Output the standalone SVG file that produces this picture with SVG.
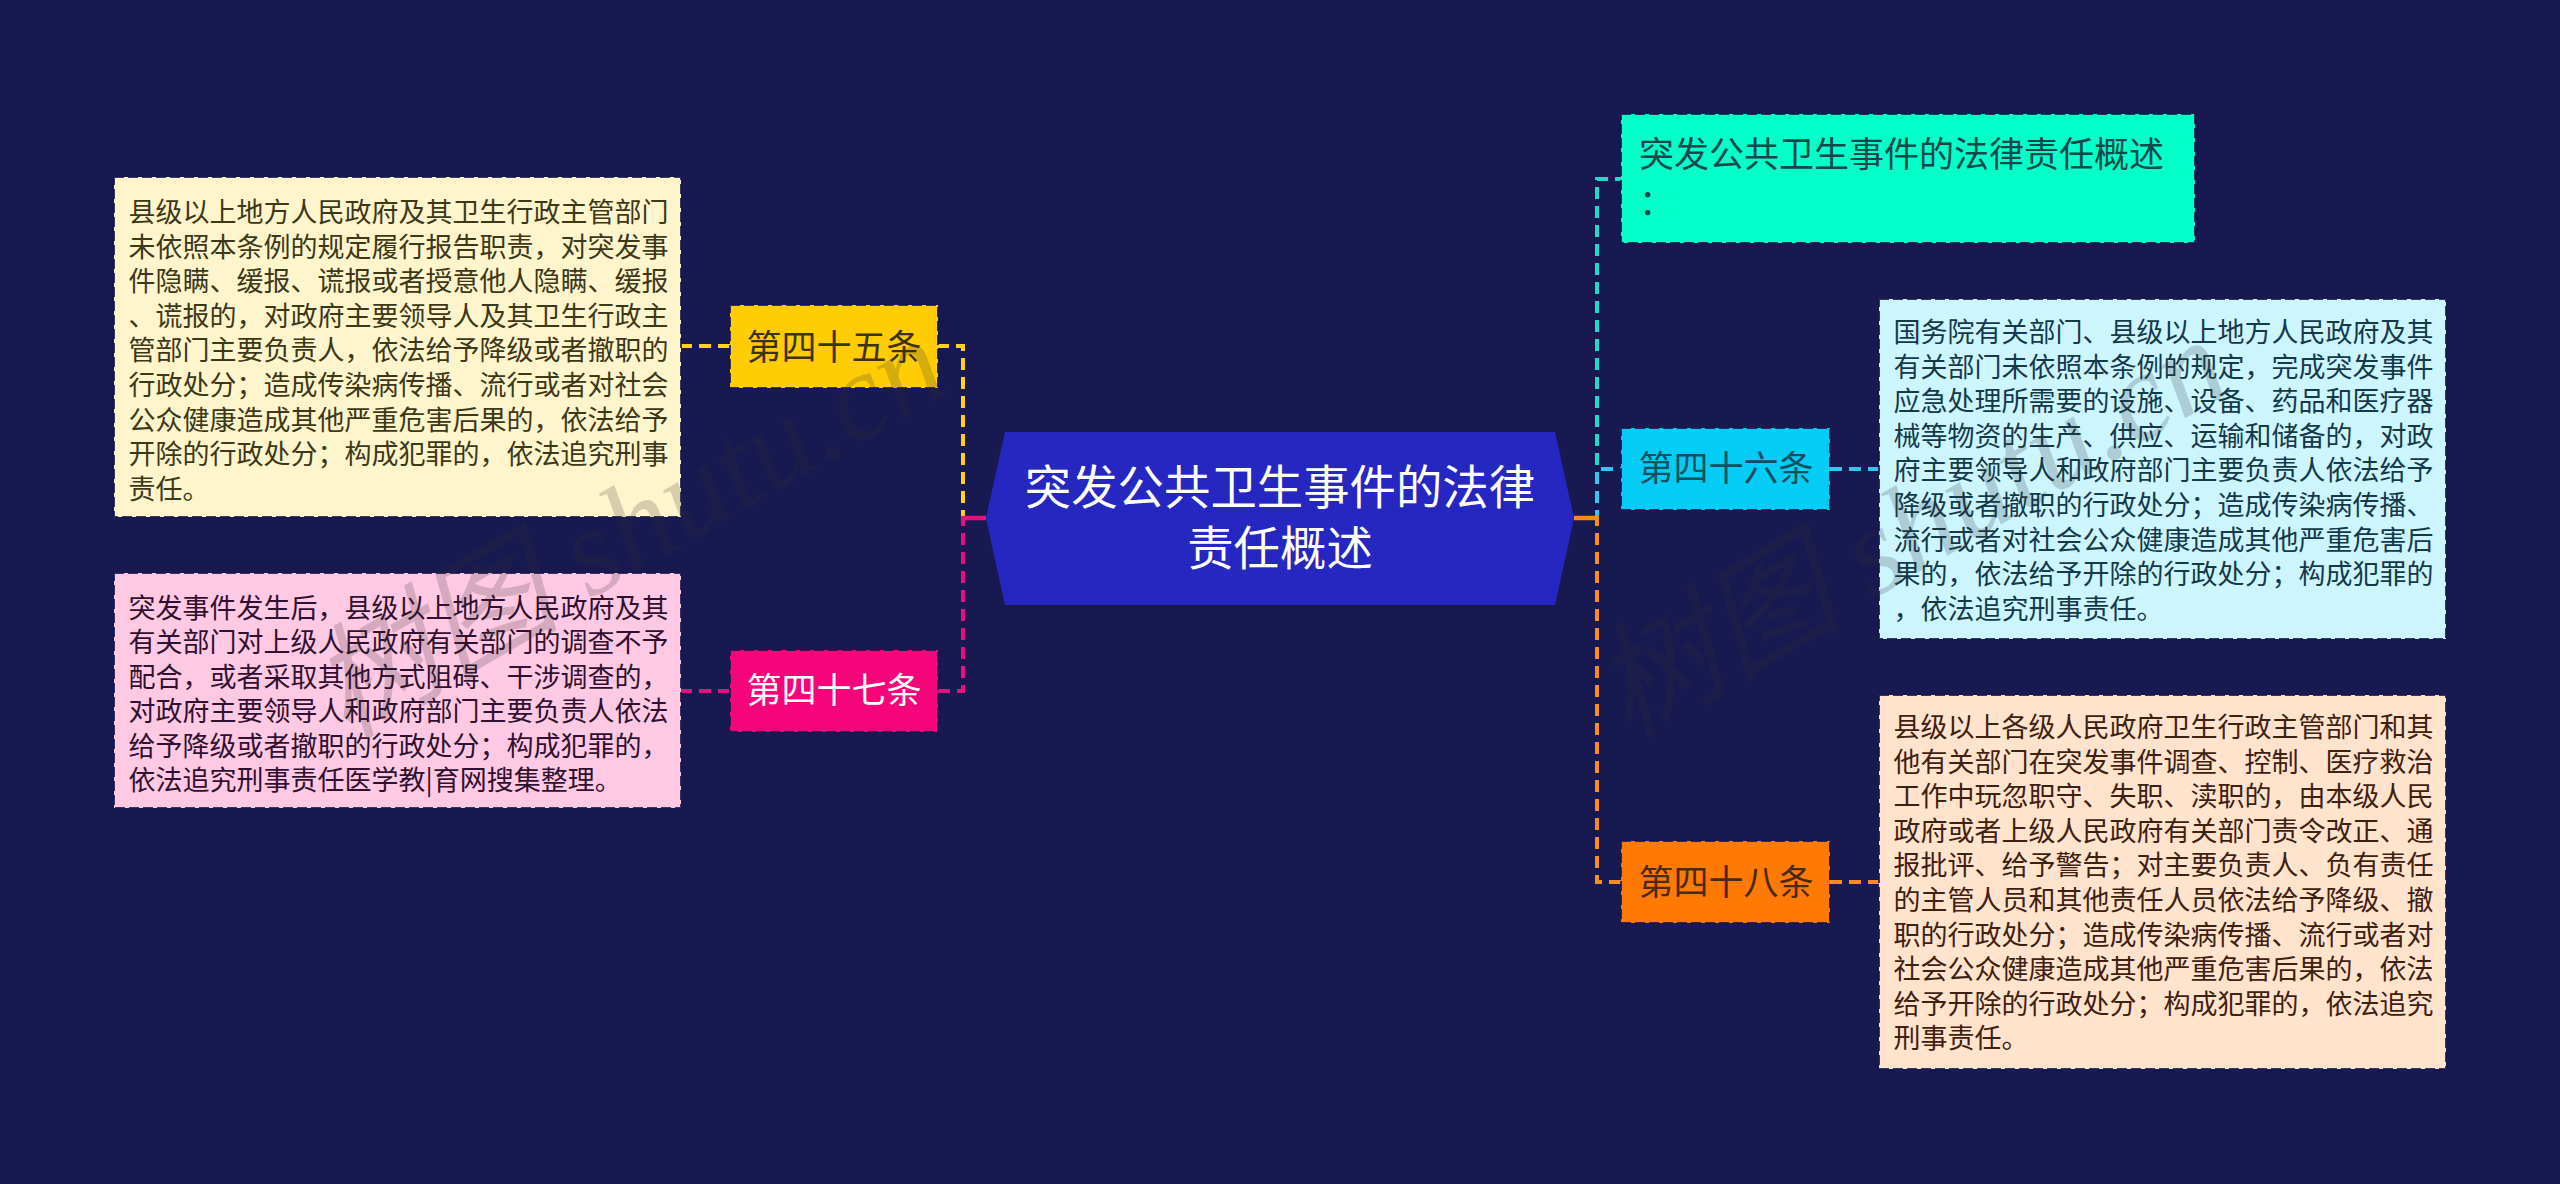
<svg xmlns="http://www.w3.org/2000/svg" width="2560" height="1184" viewBox="0 0 2560 1184">
<style>
text{font-family:"Noto Sans CJK SC","Noto Sans",sans-serif}
.box{stroke:#16174f;stroke-opacity:.85;stroke-width:2;stroke-dasharray:10 4}
.leaf{font-size:27px}
.tag{font-size:35px}
.c{fill:none;stroke-width:4;stroke-dasharray:12 7}
.s{fill:none;stroke-width:4.5}
.wm{font-family:"Liberation Serif","Noto Sans CJK SC",serif;font-style:italic;font-size:125px;fill:#323232;opacity:.2}
.wmz{font-family:"Noto Sans CJK SC","Noto Sans",sans-serif;font-style:italic}
</style>
<rect width="2560" height="1184" fill="#171950"/>
<g id="connectors">
<path class="c" stroke="#1fdcc8" d="M1574 518H1597V179H1621"/>
<path class="c" stroke="#38c4f0" d="M1574 518H1597V469H1621"/>
<path class="c" stroke="#ff8a1e" d="M1574 518H1597V882H1621"/>
<path class="c" stroke="#ffd21e" d="M986 518H963V346H938"/>
<path class="c" stroke="#e8107c" d="M986 518H963V691H938"/>
<path class="s" stroke="#e8107c" d="M986 518H963"/>
<path class="s" stroke="#ff8a1e" d="M1574 518H1597"/>
<path class="c" stroke="#ffd21e" d="M730 346H681"/>
<path class="c" stroke="#e8107c" d="M730 691H681"/>
<path class="c" stroke="#38c4f0" d="M1830 469H1879"/>
<path class="c" stroke="#ff8a1e" d="M1830 882H1879"/>
</g>
<g id="root">
<polygon points="1005,432 1555,432 1574,518 1555,605 1005,605 986,518" fill="#2626c0"/>
<text x="1280" y="504" font-size="46.4" fill="#fff" text-anchor="middle">突发公共卫生事件的法律</text>
<text x="1280" y="565" font-size="46.4" fill="#fff" text-anchor="middle">责任概述</text>
</g>
<g id="n45">
<rect class="box" x="730" y="305" width="208" height="83" fill="#ffcc05"/>
<text class="tag" x="746.500" y="360" fill="#3c3410">第四十五条</text>
</g>
<g id="n45-text">
<rect class="box" x="114" y="177" width="567" height="340" fill="#fff5cc"/>
<g class="leaf" fill="#3c3818">
<text x="128.500" y="222">县级以上地方人民政府及其卫生行政主管部门</text>
<text x="128.500" y="256.600">未依照本条例的规定履行报告职责，对突发事</text>
<text x="128.500" y="291.200">件隐瞒、缓报、谎报或者授意他人隐瞒、缓报</text>
<text x="128.500" y="325.800">、谎报的，对政府主要领导人及其卫生行政主</text>
<text x="128.500" y="360.400">管部门主要负责人，依法给予降级或者撤职的</text>
<text x="128.500" y="395">行政处分；造成传染病传播、流行或者对社会</text>
<text x="128.500" y="429.600">公众健康造成其他严重危害后果的，依法给予</text>
<text x="128.500" y="464.200">开除的行政处分；构成犯罪的，依法追究刑事</text>
<text x="128.500" y="498.800">责任。</text>
</g>
</g>
<g id="n47">
<rect class="box" x="730" y="650" width="208" height="82" fill="#f5057a"/>
<text class="tag" x="746.500" y="703" fill="#fff">第四十七条</text>
</g>
<g id="n47-text">
<rect class="box" x="114" y="573" width="567" height="235" fill="#ffc9e3"/>
<g class="leaf" fill="#301030">
<text x="128.500" y="618">突发事件发生后，县级以上地方人民政府及其</text>
<text x="128.500" y="652.400">有关部门对上级人民政府有关部门的调查不予</text>
<text x="128.500" y="686.800">配合，或者采取其他方式阻碍、干涉调查的，</text>
<text x="128.500" y="721.200">对政府主要领导人和政府部门主要负责人依法</text>
<text x="128.500" y="755.600">给予降级或者撤职的行政处分；构成犯罪的，</text>
<text x="128.500" y="790">依法追究刑事责任医学教|育网搜集整理。</text>
</g>
</g>
<g id="n-summary">
<rect class="box" x="1621" y="114" width="574" height="129" fill="#05ffc8"/>
<text class="tag" x="1639" y="167" fill="#0e4a4a">突发公共卫生事件的法律责任概述</text>
<text class="tag" x="1639" y="215" fill="#0e4a4a">：</text>
</g>
<g id="n46">
<rect class="box" x="1621" y="428" width="209" height="82" fill="#05ccf5"/>
<text class="tag" x="1638.500" y="481" fill="#10505f">第四十六条</text>
</g>
<g id="n46-text">
<rect class="box" x="1879" y="299" width="567" height="340" fill="#ccf5ff"/>
<g class="leaf" fill="#14394a">
<text x="1893.500" y="342">国务院有关部门、县级以上地方人民政府及其</text>
<text x="1893.500" y="376.600">有关部门未依照本条例的规定，完成突发事件</text>
<text x="1893.500" y="411.200">应急处理所需要的设施、设备、药品和医疗器</text>
<text x="1893.500" y="445.800">械等物资的生产、供应、运输和储备的，对政</text>
<text x="1893.500" y="480.400">府主要领导人和政府部门主要负责人依法给予</text>
<text x="1893.500" y="515">降级或者撤职的行政处分；造成传染病传播、</text>
<text x="1893.500" y="549.600">流行或者对社会公众健康造成其他严重危害后</text>
<text x="1893.500" y="584.200">果的，依法给予开除的行政处分；构成犯罪的</text>
<text x="1893.500" y="618.800">，依法追究刑事责任。</text>
</g>
</g>
<g id="n48">
<rect class="box" x="1621" y="841" width="209" height="82" fill="#ff7a05"/>
<text class="tag" x="1638.500" y="895" fill="#4a2a10">第四十八条</text>
</g>
<g id="n48-text">
<rect class="box" x="1879" y="695" width="567" height="374" fill="#ffe3cc"/>
<g class="leaf" fill="#402010">
<text x="1893.500" y="737">县级以上各级人民政府卫生行政主管部门和其</text>
<text x="1893.500" y="771.600">他有关部门在突发事件调查、控制、医疗救治</text>
<text x="1893.500" y="806.200">工作中玩忽职守、失职、渎职的，由本级人民</text>
<text x="1893.500" y="840.800">政府或者上级人民政府有关部门责令改正、通</text>
<text x="1893.500" y="875.400">报批评、给予警告；对主要负责人、负有责任</text>
<text x="1893.500" y="910">的主管人员和其他责任人员依法给予降级、撤</text>
<text x="1893.500" y="944.600">职的行政处分；造成传染病传播、流行或者对</text>
<text x="1893.500" y="979.200">社会公众健康造成其他严重危害后果的，依法</text>
<text x="1893.500" y="1013.800">给予开除的行政处分；构成犯罪的，依法追究</text>
<text x="1893.500" y="1048.400">刑事责任。</text>
</g>
</g>
<g id="watermark">
<text class="wm" transform="translate(346 740) rotate(-30)"><tspan class="wmz">树图</tspan> shutu.cn</text>
<text class="wm" transform="translate(1628 740) rotate(-30)"><tspan class="wmz">树图</tspan> shutu.cn</text>
</g>
</svg>
